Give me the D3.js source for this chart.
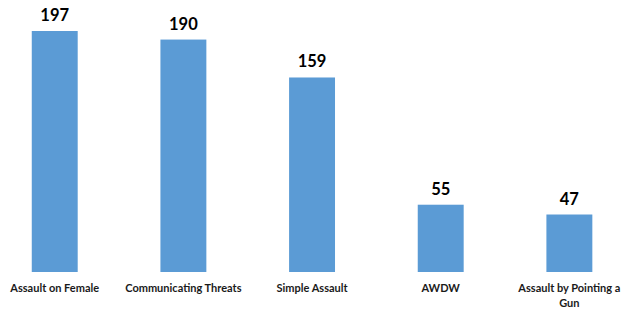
<!DOCTYPE html>
<html lang="en">
<head>
<meta charset="utf-8">
<title>Assault counts</title>
<script src="https://d3js.org/d3.v7.min.js"></script>
<style>
  body { margin: 0; background: #fff; }
  svg { display: block; }
</style>
</head>
<body>
<div id="chart"></div>
<script>
// data
var categories = ["Assault on Female", "Communicating Threats", "Simple Assault", "AWDW", "Assault by Pointing a Gun"];
var counts = [197, 190, 159, 55, 47];

var width = 621, height = 312;
var baseY = 272;

var svg = d3.select("#chart")
  .append("svg")
  .attr("width", width)
  .attr("height", height);

// plot area runs a bit past the right edge, like the original crop
var x = d3.scaleBand()
  .domain(categories)
  .range([-9.6, 633.7])
  .paddingInner(0.643)
  .paddingOuter(0.3215);

var y = d3.scaleLinear()
  .domain([0, 197])
  .range([baseY, 31]);

var rows = categories.map(function(c, i) { return { name: c, value: counts[i] }; });

svg.append("g")
  .selectAll("rect")
  .data(rows)
  .enter()
  .append("rect")
  .attr("x", function(d) { return x(d.name); })
  .attr("y", function(d) { return y(d.value); })
  .attr("width", x.bandwidth())
  .attr("height", function(d) { return baseY - y(d.value); })
  .attr("fill", "#5B9BD5");

// value labels above bars
svg.append("g")
  .selectAll("text")
  .data(rows)
  .enter()
  .append("text")
  .attr("x", function(d) { return x(d.name) + x.bandwidth() / 2; })
  .attr("y", function(d) { return y(d.value) - 10; })
  .attr("text-anchor", "middle")
  .attr("font-family", "Lato, 'Open Sans', sans-serif")
  .attr("font-weight", "bold")
  .attr("font-size", "16.5px")
  .attr("fill", "#000")
  .text(function(d) { return d.value; });

// category labels, wrapped like the original
var wrapAt = { "Assault by Pointing a Gun": ["Assault by Pointing a", "Gun"] };

var cat = svg.append("g")
  .selectAll("text")
  .data(rows)
  .enter()
  .append("text")
  .attr("x", function(d) { return x(d.name) + x.bandwidth() / 2; })
  .attr("y", 292)
  .attr("text-anchor", "middle")
  .attr("font-family", "Lato, 'Open Sans', sans-serif")
  .attr("font-weight", "bold")
  .attr("font-size", "11px")
  .attr("fill", "#1a1a1a");

cat.each(function(d) {
  var lines = wrapAt[d.name] || [d.name];
  var t = d3.select(this);
  lines.forEach(function(l, i) {
    t.append("tspan")
      .attr("x", x(d.name) + x.bandwidth() / 2)
      .attr("dy", i === 0 ? 0 : 15)
      .text(l);
  });
});
</script>
</body>
</html>
